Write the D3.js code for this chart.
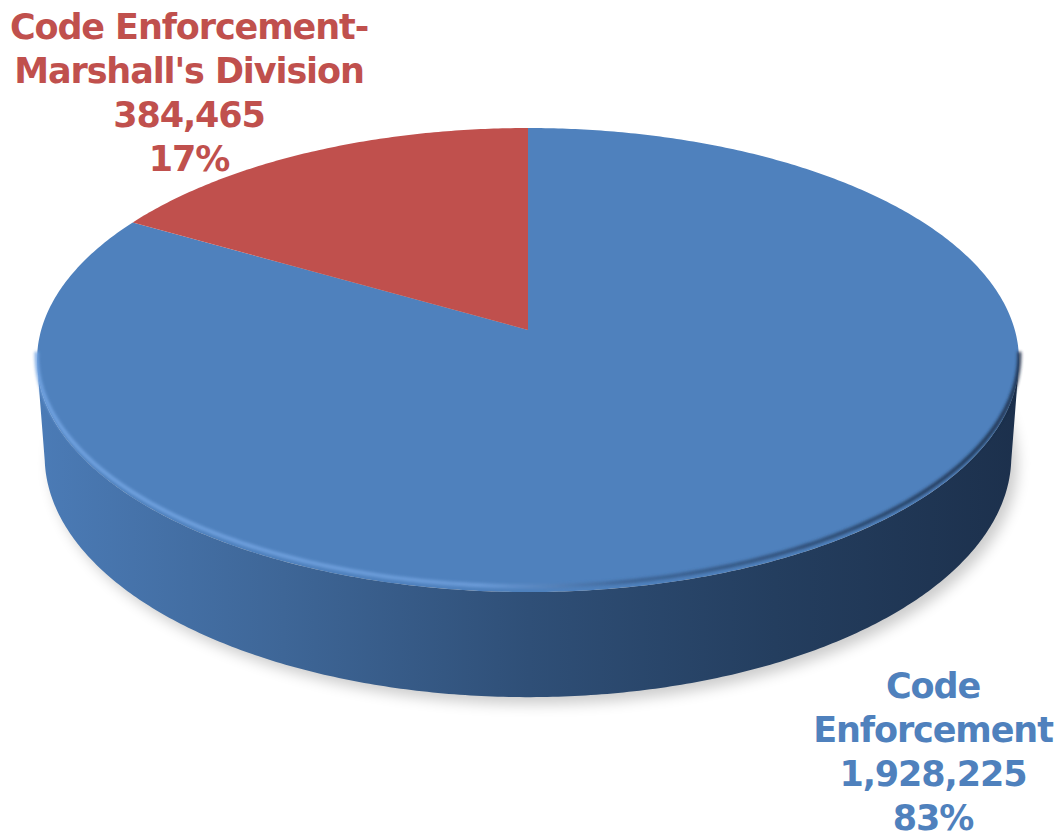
<!DOCTYPE html>
<html>
<head>
<meta charset="utf-8">
<script src="https://cdn.jsdelivr.net/npm/d3@7"></script>
<style>
  body { margin: 0; background: #fff; }
  svg { display: block; }
</style>
</head>
<body>
<div id="chart"></div>
<script>
// data
var categories = ["Code Enforcement", "Code Enforcement-Marshall's Division"];
var values = [1928225, 384465];
var colors = ["#4f81bd", "#c0504d"];
var labelLines = [
  ["Code", "Enforcement"],
  ["Code Enforcement-", "Marshall's Division"]
];

var opts = {
  width: 1062,
  height: 840,
  cx: 528,
  cy: 330,
  focal: 3323,
  dist: 6.826,
  tilt: Math.asin(0.4686),
  depth: 0.226
};

var sinT = Math.sin(opts.tilt), cosT = Math.cos(opts.tilt);

// perspective projection of a point on the pie (angle clockwise from 12 o'clock)
var project = function(a, r, y) {
  var x = r * Math.sin(a);
  var z = -r * Math.cos(a);
  var ys = z * sinT - y * cosT;
  var d = opts.dist - (z * cosT + y * sinT);
  return [opts.cx + opts.focal * x / d, opts.cy + opts.focal * ys / d];
};

var arcPoints = function(a0, a1, y) {
  var n = Math.max(2, Math.ceil((a1 - a0) / 0.01));
  return d3.range(n + 1).map(function(i) {
    return project(a0 + (a1 - a0) * i / n, 1, y);
  });
};

var svg = d3.select('#chart').append('svg')
  .attr('width', opts.width)
  .attr('height', opts.height);

var defs = svg.append('defs');
defs.append('filter').attr('id', 'shadowBlur')
  .attr('x', '-20%').attr('y', '-20%').attr('width', '140%').attr('height', '140%')
  .append('feGaussianBlur').attr('stdDeviation', 7);
defs.append('filter').attr('id', 'rimBlur')
  .attr('x', '-5%').attr('y', '-5%').attr('width', '110%').attr('height', '110%')
  .append('feGaussianBlur').attr('stdDeviation', 1.6);

var sideGrad = defs.append('linearGradient').attr('id', 'sideGrad')
  .attr('gradientUnits', 'userSpaceOnUse')
  .attr('x1', 38).attr('x2', 1020).attr('y1', 0).attr('y2', 0);
[[0, '#4b7bb6'], [0.25, '#3e6697'], [0.5, '#2f4f77'], [0.75, '#243e5f'], [1, '#1c304c']]
  .forEach(function(s) {
    sideGrad.append('stop').attr('offset', s[0]).attr('stop-color', s[1]);
  });

var rimGrad = defs.append('linearGradient').attr('id', 'rimGrad')
  .attr('gradientUnits', 'userSpaceOnUse')
  .attr('x1', 38).attr('x2', 1020).attr('y1', 0).attr('y2', 0);
[[0, '#74a6e4'], [0.45, '#6f9fdc'], [0.6, '#3c6394'], [1, '#1a2c46']]
  .forEach(function(s) {
    rimGrad.append('stop').attr('offset', s[0]).attr('stop-color', s[1]);
  });

var pie = d3.pie().sort(null).value(function(d) { return d; });
var slices = pie(values);
var total = d3.sum(values);
var line = d3.line();

// visible part of the outer wall
var visMin = Math.acos(-1 / (opts.dist * cosT));
var visMax = 2 * Math.PI - visMin;

// soft shadow under the pie
var shadowPts = arcPoints(0, 2 * Math.PI, -opts.depth).map(function(p) {
  return [p[0] + 6, p[1] + 7];
});
svg.append('path')
  .attr('d', line(shadowPts) + 'Z')
  .attr('fill', '#000')
  .attr('opacity', 0.2)
  .attr('filter', 'url(#shadowBlur)');

// outer walls
svg.selectAll('path.side')
  .data(slices)
  .enter().append('path')
  .attr('class', 'side')
  .attr('d', function(d) {
    var a0 = Math.max(d.startAngle, visMin - 0.02);
    var a1 = Math.min(d.endAngle, visMax + 0.02);
    if (a1 <= a0) return null;
    var top = arcPoints(a0, a1, 0);
    var bottom = arcPoints(a0, a1, -opts.depth).reverse();
    return line(top.concat(bottom)) + 'Z';
  })
  .attr('fill', function(d, i) { return i === 0 ? 'url(#sideGrad)' : d3.color(colors[i]).darker(1); });

// top faces
svg.selectAll('path.top')
  .data(slices)
  .enter().append('path')
  .attr('class', 'top')
  .attr('d', function(d) {
    var pts = [project(0, 0, 0)].concat(arcPoints(d.startAngle, d.endAngle, 0));
    return line(pts) + 'Z';
  })
  .attr('fill', function(d, i) { return colors[i]; });

// bevel highlight along the front rim
svg.append('path')
  .attr('d', line(arcPoints(visMin - 0.05, visMax + 0.05, 0.012)))
  .attr('fill', 'none')
  .attr('stroke', 'url(#rimGrad)')
  .attr('stroke-width', 4)
  .attr('opacity', 0.9)
  .attr('filter', 'url(#rimBlur)');

// labels
var labelPos = [[933, 698], [189, 39]];
var lineGap = 44;
var fmt = d3.format(',');

var labels = svg.selectAll('text.label')
  .data(slices)
  .enter().append('text')
  .attr('class', 'label')
  .attr('text-anchor', 'middle')
  .attr('font-family', 'DejaVu Sans, Verdana, sans-serif')
  .attr('font-weight', 'bold')
  .attr('font-size', 35)
  .attr('letter-spacing', -1.1)
  .attr('fill', function(d, i) { return colors[i]; });

labels.each(function(d, i) {
  var lines = labelLines[i].concat([fmt(d.value), Math.round(d.value / total * 100) + '%']);
  d3.select(this).selectAll('tspan')
    .data(lines)
    .enter().append('tspan')
    .attr('x', labelPos[i][0])
    .attr('y', function(t, j) { return labelPos[i][1] + j * lineGap; })
    .text(function(t) { return t; });
});
</script>
</body>
</html>
